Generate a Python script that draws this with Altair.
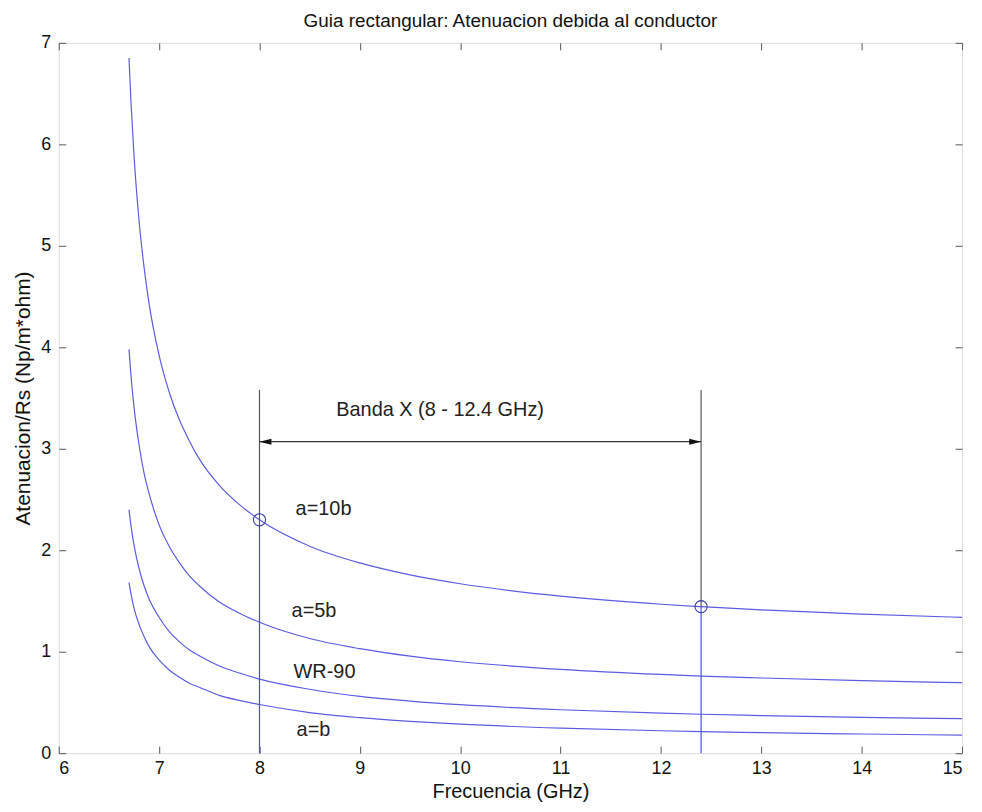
import altair as alt
import pandas as pd

# ---------------- data ----------------
freq = [6.7, 6.72, 6.75, 6.8, 6.85, 6.9, 7.0, 7.1, 7.2, 7.3, 7.4, 7.6, 7.8, 8.0,
        8.5, 9.0, 9.5, 10.0, 11.0, 12.0, 12.4, 13.0, 14.0, 15.0]
a10b = [6.85, 6.41, 5.89, 5.25, 4.79, 4.43, 3.92, 3.56, 3.29, 3.08, 2.90, 2.64,
        2.45, 2.30, 2.04, 1.875, 1.757, 1.670, 1.548, 1.468, 1.444, 1.412, 1.371, 1.339]
a5b = [3.98, 3.72, 3.41, 3.04, 2.76, 2.56, 2.25, 2.04, 1.88, 1.75, 1.65, 1.49,
       1.38, 1.29, 1.13, 1.03, 0.956, 0.901, 0.826, 0.776, 0.760, 0.741, 0.715, 0.695]
wr90 = [2.40, 2.24, 2.05, 1.82, 1.65, 1.52, 1.34, 1.20, 1.10, 1.02, 0.96, 0.86,
        0.79, 0.73, 0.63, 0.56, 0.514, 0.478, 0.428, 0.395, 0.384, 0.371, 0.353, 0.340]
ab = [1.68, 1.57, 1.43, 1.27, 1.15, 1.05, 0.92, 0.82, 0.75, 0.69, 0.65, 0.57,
      0.52, 0.48, 0.40, 0.35, 0.314, 0.286, 0.247, 0.221, 0.213, 0.203, 0.189, 0.178]
series_names = ["a=10b", "a=5b", "WR-90", "a=b"]

label_x = [8.36, 8.32, 8.34, 8.37]
label_y = [2.41, 1.40, 0.80, 0.23]

band_x = [8.0, 12.4]
band_marker_y = [2.30, 1.444]
band_top = 3.58
arrow_y = 3.07
band_text = "Banda X (8 - 12.4 GHz)"
band_text_x = 9.80
band_text_y = 3.38

x_ticks = [6, 7, 8, 9, 10, 11, 12, 13, 14, 15]
y_ticks = [0, 1, 2, 3, 4, 5, 6, 7]

title_text = "Guia rectangular: Atenuacion debida al conductor"
x_title = "Frecuencia (GHz)"
y_title = "Atenuacion/Rs (Np/m*ohm)"

# ---------------- tables ----------------
rows = []
for name, vals in zip(series_names, [a10b, a5b, wr90, ab]):
    for f, v in zip(freq, vals):
        rows.append({"f": f, "v": v, "serie": name})
curves = pd.DataFrame(rows)

labels = pd.DataFrame({"x": label_x, "y": label_y, "t": series_names})
lower = pd.DataFrame({"x": band_x, "y": [0, 0], "y2": band_marker_y})
upper = pd.DataFrame({"x": band_x, "y": band_marker_y, "y2": [band_top, band_top]})
arrow = pd.DataFrame({"x": [band_x[0]], "x2": [band_x[1]], "y": [arrow_y]})
heads = pd.DataFrame({"x": band_x, "y": [arrow_y, arrow_y], "side": ["L", "R"]})
markers = pd.DataFrame({"x": band_x, "y": band_marker_y})
btext = pd.DataFrame({"x": [band_text_x], "y": [band_text_y], "t": [band_text]})
carrier = pd.DataFrame({"x": [6, 15], "y": [0, 7]})

FONT = "Liberation Sans"
XS = alt.Scale(domain=[6, 15], nice=False, zero=False)
YS = alt.Scale(domain=[0, 7], nice=False, zero=False)
BLUE = "#5c5ce2"


def xq(field, axis=None):
    return alt.X(field, type="quantitative", scale=XS, axis=axis)


def yq(field, axis=None):
    return alt.Y(field, type="quantitative", scale=YS, axis=axis)


lines = alt.Chart(curves).mark_line(color=BLUE, strokeWidth=1.2, interpolate="monotone").encode(
    x=xq("f"), y=yq("v"), detail="serie:N", order="f:Q"
)

rule_low = alt.Chart(lower).mark_rule(color="#4a4aee", strokeWidth=1.2).encode(
    x=xq("x"), y=yq("y"), y2="y2:Q"
)
rule_up = alt.Chart(upper).mark_rule(color="#555555", strokeWidth=1.2).encode(
    x=xq("x"), y=yq("y"), y2="y2:Q"
)
rule_arrow = alt.Chart(arrow).mark_rule(color="#333333", strokeWidth=1.2).encode(
    x=xq("x"), x2="x2:Q", y=yq("y")
)
head_l = alt.Chart(heads[heads.side == "L"]).mark_point(
    shape="M0,0L2,-0.5L2,0.5Z", filled=True, color="#111111", size=144, opacity=1
).encode(x=xq("x"), y=yq("y"))
head_r = alt.Chart(heads[heads.side == "R"]).mark_point(
    shape="M0,0L-2,-0.5L-2,0.5Z", filled=True, color="#111111", size=144, opacity=1
).encode(x=xq("x"), y=yq("y"))
circ = alt.Chart(markers).mark_point(
    shape="circle", filled=False, color="#3a3aa8", size=150, strokeWidth=1.1, opacity=1
).encode(x=xq("x"), y=yq("y"))

txt = alt.Chart(labels).mark_text(
    align="left", baseline="middle", font=FONT, fontSize=20, color="#222222"
).encode(x=xq("x"), y=yq("y"), text="t:N")
band_lbl = alt.Chart(btext).mark_text(
    align="center", baseline="middle", font=FONT, fontSize=20, color="#222222"
).encode(x=xq("x"), y=yq("y"), text="t:N")

common = dict(grid=False, labelFont=FONT, titleFont=FONT, labelColor="#111111",
              titleColor="#111111", tickColor="#555555")

ax_lab_x = alt.Axis(orient="bottom", values=x_ticks, ticks=False, domain=False,
                    labelPadding=6, labelFontSize=18, title=x_title,
                    titleFontSize=20, titleFontWeight="normal", titlePadding=5,
                    **common)
ax_lab_y = alt.Axis(orient="left", values=y_ticks, ticks=False, domain=False,
                    labelPadding=8, labelFontSize=18, title=y_title,
                    titleFontSize=21, titleFontWeight="normal", titlePadding=7,
                    **common)
carrier_labels = alt.Chart(carrier).mark_point(opacity=0).encode(
    x=xq("x", ax_lab_x), y=yq("y", ax_lab_y)
)


def tick_axis(orient, vals):
    return alt.Axis(orient=orient, values=vals, ticks=True, tickSize=7, offset=-7,
                    labels=False, domain=False, title=None, **common)


carrier_ticks_a = alt.Chart(carrier).mark_point(opacity=0).encode(
    x=xq("x", tick_axis("bottom", x_ticks)), y=yq("y", tick_axis("left", y_ticks))
)
carrier_ticks_b = alt.Chart(carrier).mark_point(opacity=0).encode(
    x=xq("x", tick_axis("top", x_ticks)), y=yq("y", tick_axis("right", y_ticks))
)

chart = alt.layer(
    carrier_labels, carrier_ticks_a, carrier_ticks_b,
    lines, rule_low, rule_up, rule_arrow, head_l, head_r, circ, txt, band_lbl
).resolve_scale(x="independent", y="independent").properties(
    width=908, height=714,
    title=alt.TitleParams(title_text, font=FONT, fontSize=19, fontWeight="normal",
                          color="#111111", anchor="middle", frame="group",
                          offset=3),
    autosize=alt.AutoSizeParams(type="none"),
    padding={"left": 51, "top": 33, "right": 12, "bottom": 48},
).configure_view(stroke="#555555", strokeWidth=1).configure(background="white")

chart.save("out.html", embed_options={"renderer": "svg", "actions": False})
